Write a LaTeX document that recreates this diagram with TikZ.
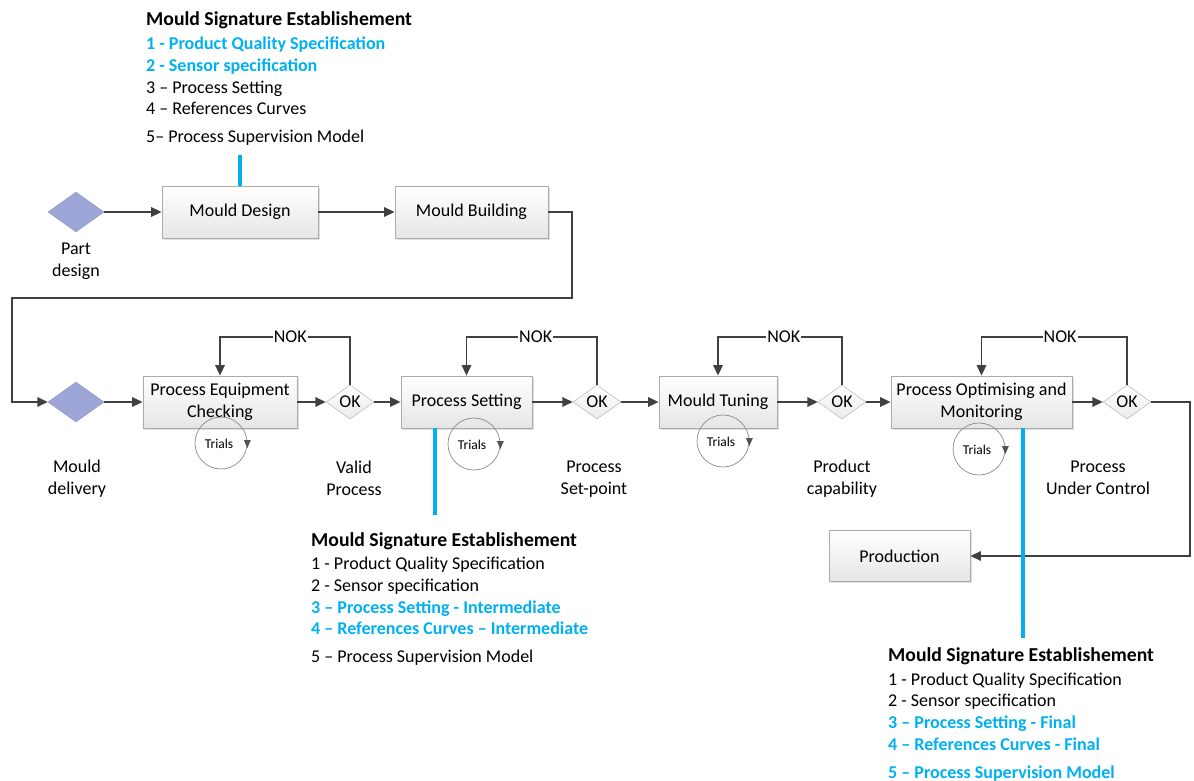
\documentclass[tikz,border=0pt]{standalone}
\usepackage{fontspec}
\setmainfont{Carlito}
\usetikzlibrary{shapes.geometric,arrows.meta,shadows,calc}
\definecolor{lc}{HTML}{404040}
\definecolor{bb}{HTML}{ABABAB}
\definecolor{dfill}{HTML}{9EA5D7}
\definecolor{ddraw}{HTML}{8A91C6}
\definecolor{cy}{HTML}{00B0F0}
\definecolor{tgray}{HTML}{8C8C8C}
\begin{document}
\begin{tikzpicture}[x=1pt,y=-1pt,
 font=\fontsize{18}{22}\selectfont,
 box/.style={draw=bb, line width=0.8pt, top color=white, bottom color=black!10, minimum height=52pt, inner sep=2pt, align=center, drop shadow={shadow xshift=1.5pt,shadow yshift=-1.5pt,opacity=0.25}},
 pdiam/.style={diamond, draw=ddraw, fill=dfill, minimum width=56pt, minimum height=40pt, inner sep=0pt},
 okd/.style={diamond, draw=bb, top color=white, bottom color=black!8, minimum width=48pt, minimum height=34pt, inner sep=0pt},
 okt/.style={inner sep=0pt},
 flow/.style={draw=lc, line width=1.6pt, -{Triangle[length=10.5pt,width=9.5pt]}},
 nok/.style={fill=white, inner sep=1pt},
 lbl/.style={align=center, inner sep=0pt},
 trc/.style={circle, draw=tgray, line width=0.7pt, minimum size=52pt, inner sep=0pt},
 trt/.style={font=\fontsize{13.5}{15}\selectfont, inner sep=0pt},
 trtip/.style={fill=lc!90},
 bl/.style={draw=cy, line width=4pt},
 ttl/.style={anchor=base west, inner sep=0pt, font=\fontsize{19.7}{22}\selectfont\bfseries},
 ln/.style={anchor=base west, inner sep=0pt},
 lnb/.style={anchor=base west, inner sep=0pt, text=cy, font=\fontsize{18}{22}\selectfont\bfseries},
]
\useasboundingbox (0,0) rectangle (1194,781);

% ---------- top text block
\node[ttl] (t0) at (146,26) {Mould Signature Establishement};
\node[lnb] (t1) at (146,49.5) {1 - Product Quality Specification};
\node[lnb] (t2) at (146,71.5) {2 - Sensor specification};
\node[ln] (t3) at (146,93.5) {3 – Process Setting};
\node[ln] (t4) at (146,115) {4 – References Curves};
\node[ln] (t5) at (146,142.5) {5– Process Supervision Model};

% ---------- first row
\node[pdiam] (pd) at (76,212) {};
\node[lbl] (pdl) at (76,261) {Part\\design};
\node[box, minimum width=156pt] (md) at (240,212) {Mould Design};
\node[box, minimum width=153pt] (mb) at (471.5,212) {Mould Building};

% ---------- second row
\node[pdiam] (del) at (76,402) {};
\node[lbl] (dell) at (77,479) {Mould\\delivery};
\node[box, minimum width=154pt] (pec) at (220,402) {Process Equipment\\Checking};
\node[okd] (ok1) at (350,402) {};
\node[okt] (ok1t) at (ok1) {OK};
\node[lbl] (ok1l) at (354,478) {Valid\\Process};

\node[box, minimum width=131pt] (ps) at (466.5,402) {Process Setting};
\node[okd] (ok2) at (597,402) {};
\node[okt] (ok2t) at (ok2) {OK};
\node[lbl] (ok2l) at (594,479) {Process\\Set-point};

\node[box, minimum width=118pt] (mt) at (718,402) {Mould Tuning};
\node[okd] (ok3) at (842,402) {};
\node[okt] (ok3t) at (ok3) {OK};
\node[lbl] (ok3l) at (842,479) {Product\\capability};

\node[box, minimum width=181pt] (pom) at (981.5,402) {Process Optimising and\\Monitoring};
\node[okd] (ok4) at (1127,402) {};
\node[okt] (ok4t) at (ok4) {OK};
\node[lbl] (ok4l) at (1098,478) {Process\\Under Control};

\node[box, minimum width=141pt, minimum height=51pt] (prod) at (899.5,556) {Production};

% ---------- trials circles
\foreach \n/\cx/\cy in {tr1/221/443, tr2/474/444, tr3/723/441, tr4/979/449}{
  \node[trc] (\n) at (\cx,\cy) {};
  \node[trt] (\n t) at ($(\n)+(-2,1)$) {Trials};
  \fill[trtip] ($(\n.east)+(-3.5,-3)$) -- ++(7,0) -- ++(-3.5,8) -- cycle;
}

% ---------- connectors
\coordinate (nk) at (0,337);
\coordinate (c1) at (572,212);
\coordinate (c2) at (572,298);
\coordinate (c3) at (12,298);
\coordinate (c4) at (12,402);
\coordinate (c5) at (1190,402);
\coordinate (c6) at (1190,556);

\draw[flow] (pd.east) -- (md.west);
\draw[flow] (md.east) -- (mb.west);
\draw[flow] (mb.east) -- (c1) -- (c2) -- (c3) -- (c4) -- (del.west);
\draw[flow] (del.east) -- (pec.west);
\draw[flow] (pec.east) -- (ok1.west);
\draw[flow] (ok1.east) -- (ps.west);
\draw[flow] (ps.east) -- (ok2.west);
\draw[flow] (ok2.east) -- (mt.west);
\draw[flow] (mt.east) -- (ok3.west);
\draw[flow] (ok3.east) -- (pom.west);
\draw[flow] (pom.east) -- (ok4.west);
\draw[flow] (ok4.east) -- (c5) -- (c6) -- (prod.east);

\draw[flow] (ok1.north) -- (ok1.north |- nk) -- node[nok,pos=0.46] (n1) {NOK} (pec.north |- nk) -- (pec.north);
\draw[flow] (ok2.north) -- (ok2.north |- nk) -- node[nok,pos=0.47] (n2) {NOK} (ps.north |- nk) -- (ps.north);
\draw[flow] (ok3.north) -- (ok3.north |- nk) -- node[nok,pos=0.47] (n3) {NOK} (mt.north |- nk) -- (mt.north);
\draw[flow] (ok4.north) -- (ok4.north |- nk) -- node[nok,pos=0.46] (n4) {NOK} (pom.north |- nk) -- (pom.north);

% ---------- blue links
\coordinate (b1) at (240,155);
\coordinate (b2a) at (435,428);
\coordinate (b2b) at (435,515);
\coordinate (b3a) at (1023,428);
\coordinate (b3b) at (1023,638);
\draw[bl] (b1) -- (md.north);
\draw[bl] (b2a) -- (b2b);
\draw[bl] (b3a) -- (b3b);

% ---------- middle text block
\node[ttl] (m0) at (311,546) {Mould Signature Establishement};
\node[ln] (m1) at (311,569) {1 - Product Quality Specification};
\node[ln] (m2) at (311,591) {2 - Sensor specification};
\node[lnb] (m3) at (311,613) {3 – Process Setting - Intermediate};
\node[lnb] (m4) at (311,634) {4 – References Curves – Intermediate};
\node[ln] (m5) at (311,662) {5 – Process Supervision Model};

% ---------- right text block
\node[ttl] (r0) at (888,661) {Mould Signature Establishement};
\node[ln] (r1) at (888,685) {1 - Product Quality Specification};
\node[ln] (r2) at (888,706.5) {2 - Sensor specification};
\node[lnb] (r3) at (888,728) {3 – Process Setting - Final};
\node[lnb] (r4) at (888,750) {4 – References Curves - Final};
\node[lnb] (r5) at (888,778) {5 – Process Supervision Model};
\end{tikzpicture}
\end{document}
